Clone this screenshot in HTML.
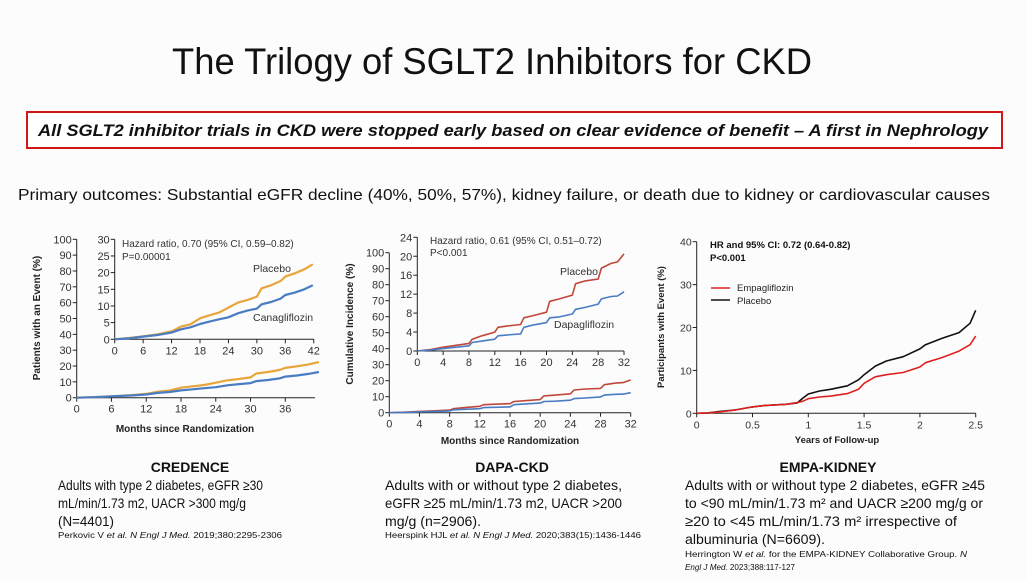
<!DOCTYPE html>
<html><head><meta charset="utf-8"><style>
html,body{margin:0;padding:0;background:#fcfcfc;}
svg{display:block;font-family:"Liberation Sans",sans-serif;}
</style></head><body>
<svg id="s" width="1027" height="579" viewBox="0 0 1027 579">
<rect x="0" y="0" width="1027" height="579" fill="#fcfcfc"/>
<text x="172" y="74" font-size="37" textLength="640" lengthAdjust="spacingAndGlyphs" fill="#111">The Trilogy of SGLT2 Inhibitors for CKD</text>
<rect x="27" y="112" width="975" height="36" fill="#fff" stroke="#d01818" stroke-width="2"/>
<text x="38" y="136" font-size="17" font-weight="bold" font-style="italic" textLength="950" lengthAdjust="spacingAndGlyphs" fill="#111">All SGLT2 inhibitor trials in CKD were stopped early based on clear evidence of benefit – A first in Nephrology</text>
<text x="18" y="200" font-size="16" textLength="972" lengthAdjust="spacingAndGlyphs" fill="#111">Primary outcomes: Substantial eGFR decline (40%, 50%, 57%), kidney failure, or death due to kidney or cardiovascular causes</text>
<g id="charts"></g>
<g id="captions" fill="#111">
<text x="190" y="472" font-size="14" font-weight="bold" text-anchor="middle">CREDENCE</text>
<text x="58" y="490" font-size="14" textLength="205" lengthAdjust="spacingAndGlyphs">Adults with type 2 diabetes, eGFR ≥30</text>
<text x="58" y="508" font-size="14" textLength="188" lengthAdjust="spacingAndGlyphs">mL/min/1.73 m2, UACR &gt;300 mg/g</text>
<text x="58" y="526" font-size="14" textLength="56" lengthAdjust="spacingAndGlyphs">(N=4401)</text>
<text x="58" y="538" font-size="8.5" textLength="224" lengthAdjust="spacingAndGlyphs">Perkovic V <tspan font-style="italic">et al. N Engl J Med.</tspan> 2019;380:2295-2306</text>
<text x="512" y="472" font-size="14" font-weight="bold" text-anchor="middle">DAPA-CKD</text>
<text x="385" y="490" font-size="14" textLength="237" lengthAdjust="spacingAndGlyphs">Adults with or without type 2 diabetes,</text>
<text x="385" y="508" font-size="14" textLength="237" lengthAdjust="spacingAndGlyphs">eGFR ≥25 mL/min/1.73 m2, UACR &gt;200</text>
<text x="385" y="526" font-size="14" textLength="96" lengthAdjust="spacingAndGlyphs">mg/g (n=2906).</text>
<text x="385" y="538" font-size="8.5" textLength="256" lengthAdjust="spacingAndGlyphs">Heerspink HJL <tspan font-style="italic">et al. N Engl J Med.</tspan> 2020;383(15):1436-1446</text>
<text x="828" y="472" font-size="14" font-weight="bold" text-anchor="middle">EMPA-KIDNEY</text>
<text x="685" y="490" font-size="14" textLength="300" lengthAdjust="spacingAndGlyphs">Adults with or without type 2 diabetes, eGFR ≥45</text>
<text x="685" y="508" font-size="14" textLength="298" lengthAdjust="spacingAndGlyphs">to &lt;90 mL/min/1.73 m² and UACR ≥200 mg/g or</text>
<text x="685" y="526" font-size="14" textLength="272" lengthAdjust="spacingAndGlyphs">≥20 to &lt;45 mL/min/1.73 m² irrespective of</text>
<text x="685" y="544" font-size="14" textLength="140" lengthAdjust="spacingAndGlyphs">albuminuria (N=6609).</text>
<text x="685" y="557" font-size="8.5" textLength="282" lengthAdjust="spacingAndGlyphs">Herrington W <tspan font-style="italic">et al.</tspan> for the EMPA-KIDNEY Collaborative Group. <tspan font-style="italic">N</tspan></text>
<text x="685" y="570" font-size="8.5" textLength="110" lengthAdjust="spacingAndGlyphs"><tspan font-style="italic">Engl J Med.</tspan> 2023;388:117-127</text>
</g>
</svg>
<script>
// CREDENCE data (months, %)
const credMonths = [0,3,6,9,12,14,16,18,20,22,24,26,28,30,31,33,35,36,38,40,41.8];
const credPlacebo = [0,0.4,0.9,1.5,2.4,3.8,4.5,6.3,7.2,8,9.5,11,11.8,12.8,15.3,16.2,17.5,18.8,19.8,21,22.5];
const credCana = [0,0.3,0.8,1.3,2,3,3.6,4.6,5.3,6,6.6,7.8,8.6,9.2,10.5,11.2,12.2,13.3,14,15,16.2];
const credMainTicks = [0,10,20,30,40,50,60,70,80,90,100];
const credInsetTicks = [0,5,10,15,20,25,30];
const credXTicks = [0,6,12,18,24,30,36];
const credInsetXTicks = [0,6,12,18,24,30,36,42];
// DAPA-CKD data
const dapaMonths = [0,2,4,6,8,8.5,10,12,12.5,14,16,16.5,18,20,20.5,22,24,24.5,26,28,28.5,30,31,32];
const dapaPlacebo = [0,0.3,0.8,1.2,1.6,2.5,3.2,4,5,5.3,5.6,7,7.5,8.2,10.5,11,11.8,14.2,14.8,15.2,17.5,18.5,18.8,20.5];
const dapaDapa = [0,0.2,0.5,0.8,1.1,1.8,2.1,2.5,3.2,3.4,3.6,5,5.5,6,7,7.2,7.8,8.8,9.2,9.9,11,11.5,11.6,12.5];
const dapaMainTicks = [0,10,20,30,40,50,60,70,80,90,100];
const dapaInsetTicks = [0,4,8,12,16,20,24];
const dapaXTicks = [0,4,8,12,16,20,24,28,32];
// EMPA-KIDNEY data (years, %)
const empaYears = [0,0.1,0.2,0.35,0.5,0.6,0.8,0.9,0.95,1.0,1.1,1.2,1.35,1.45,1.5,1.6,1.7,1.85,2.0,2.05,2.2,2.35,2.45,2.5];
const empaPlacebo = [0,0.1,0.4,0.8,1.5,1.8,2.1,2.4,3.5,4.5,5.2,5.6,6.4,7.8,9,11,12.2,13.2,15,16,17.5,18.8,21,24];
const empaEmpa = [0,0.1,0.3,0.8,1.5,1.8,2.1,2.5,2.8,3.4,3.8,4,4.6,5.6,7,8.5,9,9.5,10.8,11.8,13,14.5,16,18];
const empaYTicks = [0,10,20,30,40];
const empaXTicks = ["0","0.5","1","1.5","2","2.5"];

const NS='http://www.w3.org/2000/svg';
const root=document.getElementById('charts');
function mk(tag,attrs,parent){const e=document.createElementNS(NS,tag);for(const k in attrs)e.setAttribute(k,attrs[k]);(parent||root).appendChild(e);return e;}
function lin(d0,d1,r0,r1){return v=>r0+(v-d0)*(r1-r0)/(d1-d0);}
function pathOf(xs,ys,sx,sy,n){let d='';for(let i=0;i<n;i++){d+=(i===0?'M':'L')+sx(xs[i]).toFixed(1)+','+sy(ys[i]).toFixed(1);}return d;}
function txt(x,y,s,attrs,name){const t=mk('text',Object.assign({x:x,y:y},attrs));t.textContent=s;


return t;}
function yAxis(x,sy,ticks,fs,name){
 const g=mk('g',{});
 
 
 mk('line',{x1:x,x2:x,y1:sy(ticks[0]),y2:sy(ticks[ticks.length-1]),stroke:'#222','stroke-width':1},g);
 ticks.forEach(t=>{mk('line',{x1:x-4,x2:x,y1:sy(t),y2:sy(t),stroke:'#222'},g);
  const e=mk('text',{x:x-5,y:sy(t)+4,'font-size':fs,'text-anchor':'end',fill:'#333'},g);e.textContent=t;
  
  });
}
function xAxis(y,sx,ticks,fs,name,x2){
 const g=mk('g',{});
 
 
 mk('line',{x1:sx(+ticks[0]),x2:x2,y1:y,y2:y,stroke:'#222'},g);
 ticks.forEach(t=>{mk('line',{x1:sx(+t),x2:sx(+t),y1:y,y2:y+4,stroke:'#222'},g);
  const e=mk('text',{x:sx(+t),y:y+15,'font-size':fs,'text-anchor':'middle',fill:'#333'},g);e.textContent=t;
  
  });
}
function line(d,color,w,name){const p=mk('path',{d:d,fill:'none',stroke:color,'stroke-width':w,'stroke-linejoin':'round'});
 
 }

// CREDENCE
(function(){
 const sx=lin(0,36,76.7,285.3), sy=lin(0,100,397.7,239.3);
 const ix=lin(0,36,114.7,285.3), iy=lin(0,30,339.3,239.3);
 yAxis(76.7,sy,credMainTicks,11,'credence-y-axis');
 xAxis(397.7,sx,credXTicks,11,'credence-x-axis',315);
 yAxis(114.7,iy,credInsetTicks,11,'credence-inset-y-axis');
 xAxis(339.3,ix,credInsetXTicks,11,'credence-inset-x-axis',314);
 const n=credMonths.length;
 line(pathOf(credMonths,credPlacebo,sx,sy,n),'#e8a53a',2.2,'credence-placebo-line');
 line(pathOf(credMonths,credCana,sx,sy,n),'#4a7cc4',2.2,'credence-canagliflozin-line');
 line(pathOf(credMonths,credPlacebo,ix,iy,n),'#e8a53a',2.2,'credence-inset-placebo-line');
 line(pathOf(credMonths,credCana,ix,iy,n),'#4a7cc4',2.2,'credence-inset-canagliflozin-line');
 txt(122,247,'Hazard ratio, 0.70 (95% CI, 0.59–0.82)',{'font-size':10,fill:'#333'},'credence-hr');
 txt(122,260,'P=0.00001',{'font-size':10,fill:'#333'},'credence-p');
 txt(253,272,'Placebo',{'font-size':10.5,fill:'#333'},'credence-placebo-label');
 txt(253,321,'Canagliflozin',{'font-size':10.5,fill:'#333'},'credence-cana-label');
 txt(185,432,'Months since Randomization',{'font-size':10,'font-weight':'bold','text-anchor':'middle',fill:'#222'},'credence-x-title');
 txt(0,0,'Patients with an Event (%)',{'font-size':10,'font-weight':'bold','text-anchor':'middle',fill:'#222',transform:'translate(40,318) rotate(-90)'},'credence-y-title');
})();
// DAPA
(function(){
 const sx=lin(0,32,389.3,630.7), sy=lin(0,100,412.7,252.7);
 const ix=lin(0,32,417.3,624), iy=lin(0,24,351,237.3);
 yAxis(389.3,sy,dapaMainTicks,11,'dapa-y-axis');
 xAxis(412.7,sx,dapaXTicks,11,'dapa-x-axis',630.7);
 yAxis(417.3,iy,dapaInsetTicks,11,'dapa-inset-y-axis');
 xAxis(351,ix,dapaXTicks,11,'dapa-inset-x-axis',624);
 const n=dapaMonths.length;
 line(pathOf(dapaMonths,dapaPlacebo,sx,sy,n),'#c0473a',1.6,'dapa-placebo-line');
 line(pathOf(dapaMonths,dapaDapa,sx,sy,n),'#4a7cc4',1.6,'dapa-dapagliflozin-line');
 line(pathOf(dapaMonths,dapaPlacebo,ix,iy,n),'#c0473a',1.6,'dapa-inset-placebo-line');
 line(pathOf(dapaMonths,dapaDapa,ix,iy,n),'#4a7cc4',1.6,'dapa-inset-dapagliflozin-line');
 txt(430,244,'Hazard ratio, 0.61 (95% CI, 0.51–0.72)',{'font-size':10,fill:'#333'},'dapa-hr');
 txt(430,256,'P<0.001',{'font-size':10,fill:'#333'},'dapa-p');
 txt(560,275,'Placebo',{'font-size':10.5,fill:'#333'},'dapa-placebo-label');
 txt(554,328,'Dapagliflozin',{'font-size':10.5,fill:'#333'},'dapa-dapa-label');
 txt(510,444,'Months since Randomization',{'font-size':10,'font-weight':'bold','text-anchor':'middle',fill:'#222'},'dapa-x-title');
 txt(0,0,'Cumulative Incidence (%)',{'font-size':10,'font-weight':'bold','text-anchor':'middle',fill:'#222',transform:'translate(353,324) rotate(-90)'},'dapa-y-title');
})();
// EMPA
(function(){
 const sx=lin(0,2.5,696.7,975.7), sy=lin(0,40,413.3,241.7);
 yAxis(696.7,sy,empaYTicks,10.5,'empa-y-axis');
 xAxis(413.3,sx,empaXTicks,10.5,'empa-x-axis',975.7);
 const n=empaYears.length;
 line(pathOf(empaYears,empaPlacebo,sx,sy,n),'#111',1.6,'empa-placebo-line');
 line(pathOf(empaYears,empaEmpa,sx,sy,n),'#e0201f',1.6,'empa-empagliflozin-line');
 txt(710,248,'HR and 95% CI: 0.72 (0.64-0.82)',{'font-size':9.5,'font-weight':'bold',fill:'#111'},'empa-hr');
 txt(710,261,'P<0.001',{'font-size':9.5,'font-weight':'bold',fill:'#111'},'empa-p');
 const lg=mk('g',{});
 
 
 mk('line',{x1:711,x2:730,y1:288,y2:288,stroke:'#e0201f','stroke-width':1.5},lg);
 mk('line',{x1:711,x2:730,y1:300,y2:300,stroke:'#111','stroke-width':1.5},lg);
 txt(737,291,'Empagliflozin',{'font-size':9.5,fill:'#222'},'legend-empagliflozin');
 txt(737,304,'Placebo',{'font-size':9.5,fill:'#222'},'legend-placebo');
 txt(837,443,'Years of Follow-up',{'font-size':9.5,'font-weight':'bold','text-anchor':'middle',fill:'#222'},'empa-x-title');
 txt(0,0,'Participants with Event (%)',{'font-size':9.5,'font-weight':'bold','text-anchor':'middle',fill:'#222',transform:'translate(664,327) rotate(-90)'},'empa-y-title');
})();
</script>
</body></html>
